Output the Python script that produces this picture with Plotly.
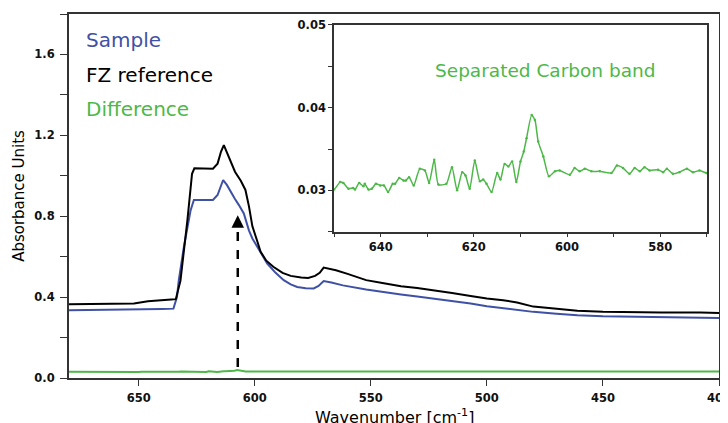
"""FTIR absorbance spectrum: sample vs FZ reference, with an inset of the separated carbon band."""

import plotly.graph_objects as go

# ── data ──
FZ_WN = [680, 670, 660, 652, 646, 640, 636, 634, 632, 629, 627, 626, 622, 618, 616, 614.5,
         613.3, 611, 608.5, 606, 604, 602.5, 601, 599, 597.5, 595, 592, 588, 584.5, 580,
         577, 574, 572, 570.3, 568, 565, 560, 552, 545, 537, 530, 523, 515, 507, 500, 493,
         487, 480, 470, 461, 450, 440, 425, 415, 410, 408, 400]
FZ_ABS = [0.365, 0.366, 0.367, 0.368, 0.38, 0.383, 0.388, 0.39, 0.48, 0.78, 1.01, 1.037,
          1.035, 1.035, 1.06, 1.12, 1.152, 1.09, 1.02, 0.975, 0.93, 0.85, 0.75, 0.68, 0.625,
          0.58, 0.55, 0.52, 0.505, 0.497, 0.495, 0.505, 0.52, 0.546, 0.54, 0.533, 0.515,
          0.484, 0.47, 0.454, 0.445, 0.434, 0.42, 0.405, 0.393, 0.385, 0.373, 0.353, 0.34,
          0.332, 0.327, 0.325, 0.324, 0.324, 0.326, 0.324, 0.322]

SAMPLE_WN = [680, 665, 650, 640, 635, 633.5, 632.7, 630.5, 627.6, 626.2, 622, 618, 616,
             614.5, 613.6, 612, 610.4, 608.5, 606.8, 604.7, 602.5, 601, 598.9, 596.5, 594.6,
             591, 587.5, 584.5, 581.7, 578, 574.6, 572.5, 570.3, 567, 562, 552, 545, 537,
             530, 523, 515, 507, 500, 490, 480, 470, 461, 450, 440, 425, 400]
SAMPLE_ABS = [0.335, 0.336, 0.338, 0.341, 0.343, 0.40, 0.484, 0.649, 0.83, 0.88, 0.88, 0.88,
              0.905, 0.95, 0.979, 0.955, 0.92, 0.885, 0.855, 0.814, 0.73, 0.69, 0.649, 0.605,
              0.566, 0.52, 0.484, 0.463, 0.45, 0.444, 0.443, 0.455, 0.479, 0.472, 0.458,
              0.438, 0.425, 0.413, 0.403, 0.393, 0.38, 0.368, 0.355, 0.34, 0.327, 0.318, 0.31,
              0.305, 0.303, 0.301, 0.297]

DIFF_WN = [680, 676, 672, 668, 664, 660, 656, 652,
           650, 648.7, 648, 646.9, 645.9, 645.5, 644.6, 643.7, 643.4, 642.6, 641.9, 641,
           640.1, 639.3, 638.4, 637.4, 636.9, 636, 635.1, 634.6, 633.9, 632.9, 631.6, 630.5,
           629.6, 628.5, 627.6, 625.9, 624.7, 623.6, 622.5, 621.8, 620.9, 619.8, 618.7, 618,
           617.3, 616.2, 615, 614.3, 613.4, 612.6, 611.8, 610.9, 610, 609.3, 608.7, 607.6,
           606.9, 606.2, 605.1, 603.9, 602.6, 601.6, 599.4, 598.4, 597.3, 596.2, 594.8, 593,
           590.5, 589.3, 588, 586.6, 585.5, 584.4, 583.4, 582.3, 580.5, 579.4, 578.6, 577.3,
           575.9, 574.3, 573, 571.6, 570.1,
           566, 560, 550, 540, 530, 520, 510, 500, 490, 480, 470, 460, 450, 440, 430, 420,
           410, 400]
DIFF_ABS = [0.031, 0.0305, 0.031, 0.0302, 0.0308, 0.0303, 0.0306, 0.0302,
            0.0301, 0.0310, 0.0309, 0.0302, 0.0303, 0.0301, 0.0309, 0.0305, 0.0308, 0.0301,
            0.0302, 0.0308, 0.0306, 0.0306, 0.0298, 0.0308, 0.0308, 0.0315, 0.0312, 0.0312,
            0.0316, 0.0306, 0.0326, 0.0324, 0.0309, 0.0337, 0.0307, 0.0308, 0.0328, 0.0300,
            0.0322, 0.0318, 0.0302, 0.0336, 0.0311, 0.0313, 0.0308, 0.0298, 0.0321, 0.0313,
            0.0332, 0.0329, 0.0335, 0.0310, 0.0335, 0.0347, 0.0363, 0.0391, 0.0385, 0.0359,
            0.0341, 0.0317, 0.0323, 0.0324, 0.0319, 0.0327, 0.0323, 0.0326, 0.0323, 0.0323,
            0.0321, 0.0330, 0.0327, 0.0320, 0.0327, 0.0323, 0.0328, 0.0324, 0.0325, 0.0322,
            0.0326, 0.0320, 0.0322, 0.0326, 0.0322, 0.0324, 0.0321,
            0.0322, 0.0325, 0.0321, 0.0324, 0.0322, 0.0325, 0.0321, 0.0323, 0.0322, 0.0324,
            0.0322, 0.0323, 0.0322, 0.0323, 0.0322, 0.0323, 0.0322, 0.0322]

MAIN_TICKS = [650, 600, 550, 500, 450, 400]
INSET_TICKS = [640, 620, 600, 580]

ARROW_WN = 607.3
ARROW_FROM = 0.055
ARROW_TO = 0.805

BLUE = "#3F51A5"
GREEN = "#4DB848"
FRAME = "#333333"
FONT = "DejaVu Sans, Verdana, sans-serif"

fig = go.Figure()

fig.add_trace(go.Scatter(x=DIFF_WN, y=DIFF_ABS, mode="lines", name="Difference",
                         line=dict(color=GREEN, width=2)))
fig.add_trace(go.Scatter(x=SAMPLE_WN, y=SAMPLE_ABS, mode="lines", name="Sample",
                         line=dict(color=BLUE, width=2)))
fig.add_trace(go.Scatter(x=FZ_WN, y=FZ_ABS, mode="lines", name="FZ reference",
                         line=dict(color="black", width=2)))

# inset
fig.add_trace(go.Scatter(x=DIFF_WN, y=DIFF_ABS, mode="lines+markers", name="Separated Carbon band",
                         line=dict(color=GREEN, width=1.5, shape="spline", smoothing=0.6),
                         marker=dict(size=2.5, color=GREEN),
                         xaxis="x2", yaxis="y2"))

# dashed arrow
fig.add_shape(type="line", x0=ARROW_WN, x1=ARROW_WN, y0=ARROW_FROM, y1=ARROW_TO - 0.04,
              xref="x", yref="y", line=dict(color="black", width=2.5, dash="dash"))
fig.add_annotation(x=ARROW_WN, y=ARROW_TO, ax=ARROW_WN, ay=ARROW_TO - 0.06,
                   xref="x", yref="y", axref="x", ayref="y", text="", showarrow=True,
                   arrowhead=2, arrowsize=1, arrowwidth=2.5, arrowcolor="black")

# text labels in place of a legend
for label, color, ypos in [("Sample", BLUE, 0.9286), ("FZ reference", "black", 0.8324),
                           ("Difference", GREEN, 0.739)]:
	fig.add_annotation(text=label, x=0.023, y=ypos, xref="paper", yref="paper",
	                   xanchor="left", yanchor="middle", showarrow=False,
	                   font=dict(size=20, color=color, family=FONT))

fig.add_annotation(text="Separated Carbon band", x=0.7323, y=0.846, xref="paper", yref="paper",
                   xanchor="center", yanchor="middle", showarrow=False,
                   font=dict(size=18.5, color=GREEN, family=FONT))

# x axis title sits low, partly past the bottom edge as in the original
fig.add_annotation(text="Wavenumber [cm<sup>-1</sup>]", x=0.5, y=-0.107, xref="paper", yref="paper",
                   xanchor="center", yanchor="middle", showarrow=False,
                   font=dict(size=16, color="black", family=FONT))

tick_font = dict(size=11.5, color="#111111", weight="bold")
axis_common = dict(showgrid=False, zeroline=False, showline=True, mirror=True,
                   linecolor=FRAME, tickcolor=FRAME, tickfont=tick_font,
                   automargin=False, ticklabeloverflow="allow")

# the page body adds an 8 px margin, so the figure is 8 px smaller and margins 8 px less
fig.update_layout(
	width=720, height=415,
	margin=dict(l=61, r=9, t=6, b=45),
	paper_bgcolor="white", plot_bgcolor="white",
	font=dict(family=FONT, color="black"),
	showlegend=False,
	xaxis=dict(**axis_common, range=[680, 400], domain=[0, 1], linewidth=2,
	           tickvals=MAIN_TICKS, ticks="outside", ticklen=6, ticklabelstandoff=2),
	yaxis=dict(**axis_common, range=[0, 1.8], linewidth=2, dtick=0.4, tickformat=".1f",
	           ticks="outside", ticklen=7, ticklabelstandoff=3,
	           minor=dict(dtick=0.2, ticks="outside", ticklen=7, tickcolor=FRAME),
	           title=dict(text="Absorbance Units", font=dict(size=15), standoff=6)),
	xaxis2=dict(**axis_common, anchor="y2", domain=[0.4077, 0.9815], range=[650, 570],
	            linewidth=1.5, tickvals=INSET_TICKS, ticks="outside", ticklen=4,
	            minor=dict(dtick=10, ticks="outside", ticklen=4, tickcolor=FRAME)),
	yaxis2=dict(**axis_common, anchor="x2", domain=[0.4019, 0.9698], range=[0.025, 0.05],
	            linewidth=1.5, dtick=0.01, tickformat=".2f", ticks="outside", ticklen=4,
	            minor=dict(dtick=0.005, ticks="outside", ticklen=4, tickcolor=FRAME)),
)

fig.write_html("out.html")
